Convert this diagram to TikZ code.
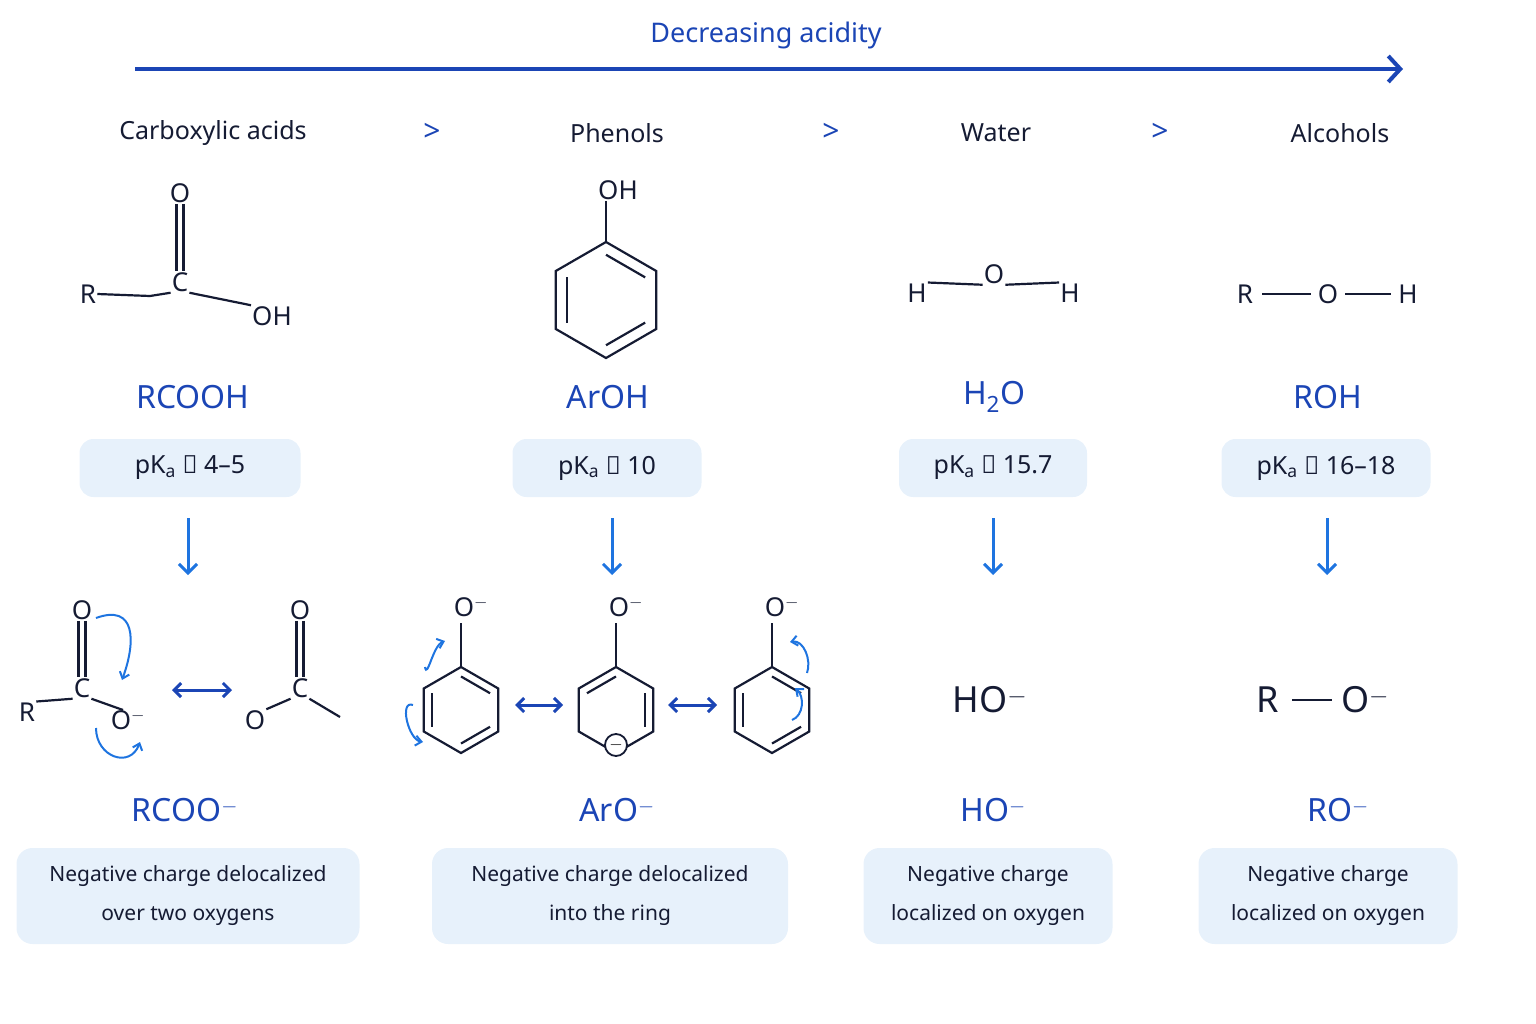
\documentclass[tikz,border=0pt]{standalone}
\usepackage{fontspec}
\setmainfont{Noto Sans}
\usetikzlibrary{calc,arrows.meta}
\definecolor{LabelBlue}{HTML}{1B45B5}
\definecolor{ArrowBlue}{HTML}{1E74E0}
\definecolor{BoxFill}{HTML}{E7F1FB}
\definecolor{TextDark}{HTML}{151B33}

\tikzset{
  heading/.style={text=TextDark, font=\fontsize{25}{30}\selectfont\bfseries},
  atom/.style={text=TextDark, font=\fontsize{26}{30}\selectfont, inner sep=1pt},
  bigatom/.style={text=TextDark, font=\fontsize{36}{40}\selectfont, inner sep=1pt},
  formula/.style={text=LabelBlue, font=\fontsize{32}{36}\selectfont\bfseries},
  pkabox/.style={fill=BoxFill, rounded corners=14pt, minimum height=58pt, text=TextDark, font=\fontsize{25}{30}\selectfont},
  notebox/.style={fill=BoxFill, rounded corners=16pt, minimum height=96pt, text=TextDark, font=\fontsize{21}{39}\selectfont, align=center},
  bond/.style={TextDark, line width=2.2pt},
  down/.style={ArrowBlue, line width=3pt, -{Straight Barb[length=9pt,width=18pt]}},
  reso/.style={LabelBlue, line width=3pt, {Straight Barb[length=7pt,width=14pt]}-{Straight Barb[length=7pt,width=14pt]}},
  push/.style={ArrowBlue, line width=2pt, -{Straight Barb[length=6pt,width=10pt]}}
}

% six ring corners (1 = top, clockwise)
\newcommand{\ringcorners}[3]{%
  \foreach \k/\a in {1/270,2/330,3/30,4/90,5/150,6/210}
    \coordinate (#1-\k) at ($(#2)+(\a:#3)$);
  \coordinate (#1-c) at (#2);
}
\newcommand{\innerbond}[3]{%
  \draw[bond] ($(#1-c)!0.78!(#1-#2)$) -- ($(#1-c)!0.78!(#1-#3)$);
}

\begin{document}
\begin{tikzpicture}[x=1pt,y=-1pt]
  \useasboundingbox (0,0) rectangle (1536,1024);

  % title arrow
  \node[text=LabelBlue, font=\fontsize{27}{32}\selectfont\bfseries] (title) at (766,35) {Decreasing acidity};
  \coordinate (arrL) at (135,69);
  \coordinate (arrR) at (1403,69);
  \draw[LabelBlue, line width=4pt, -{Straight Barb[length=12pt,width=26pt]}] (arrL) -- (arrR);

  % headings
  \node[heading] (hAcid) at (213,133) {Carboxylic acids};
  \node[heading] (hPhen) at (617,133) {Phenols};
  \node[heading] (hWat) at (996,133) {Water};
  \node[heading] (hAlc) at (1340,133) {Alcohols};
  \foreach \x in {432,831,1160}
    \node[text=LabelBlue, font=\fontsize{30}{32}\selectfont] at (\x,132) {>};

  % carboxylic acid
  \node[atom] (caO) at (180,193) {O};
  \node[atom] (caC) at (180,282) {C};
  \node[atom] (caR) at (88,294) {R};
  \node[atom] (caOH) at (272,316) {OH};
  \draw[bond] ([xshift=-3.5pt]caO.south) -- ([xshift=-3.5pt]caC.north);
  \draw[bond] ([xshift=3.5pt]caO.south) -- ([xshift=3.5pt]caC.north);
  \draw[bond] (caR.east) -- (150,296) -- (caC.south west);
  \draw[bond] (caC.south east) -- (caOH.north west);

  % phenol
  \node[atom] (phOH) at (618,190) {OH};
  \ringcorners{ph}{606,300}{58}
  \draw[bond] (phOH.south -| ph-1) -- (ph-1);
  \draw[bond] (ph-1) -- (ph-2) -- (ph-3) -- (ph-4) -- (ph-5) -- (ph-6) -- cycle;
  \innerbond{ph}{1}{2}
  \innerbond{ph}{3}{4}
  \innerbond{ph}{5}{6}

  % water
  \node[atom] (wH1) at (917,293) {H};
  \node[atom] (wO) at (994,274) {O};
  \node[atom] (wH2) at (1070,293) {H};
  \draw[bond] (wH1.north east) -- (wO.south west);
  \draw[bond] (wO.south east) -- (wH2.north west);

  % alcohol
  \node[atom] (alR) at (1245,294) {R};
  \node[atom] (alO) at (1328,294) {O};
  \node[atom] (alH) at (1408,294) {H};
  \draw[bond] ([xshift=8pt]alR.east) -- ([xshift=-6pt]alO.west);
  \draw[bond] ([xshift=6pt]alO.east) -- ([xshift=-6pt]alH.west);

  % formulas and pKa
  \node[formula] (fAcid) at (193,397) {RCOOH};
  \node[formula] (fPhen) at (608,397) {ArOH};
  \node[formula] (fWat) at (994,397) {H$_\mathbf{2}$O};
  \node[formula] (fAlc) at (1328,397) {ROH};
  \node[pkabox, minimum width=221pt] (kAcid) at (190,468) {pK$_\mathrm{a}$ ≈ 4–5};
  \node[pkabox, minimum width=189pt] (kPhen) at (607,468) {pK$_\mathrm{a}$ ≈ 10};
  \node[pkabox, minimum width=188pt] (kWat) at (993,468) {pK$_\mathrm{a}$ ≈ 15.7};
  \node[pkabox, minimum width=209pt] (kAlc) at (1326,468) {pK$_\mathrm{a}$ ≈ 16–18};
  \foreach \x in {188,612,993,1327}
    \draw[down] (\x,518) -- (\x,575);

  % carboxylate resonance
  \node[atom] (c1O) at (82,610) {O};
  \node[atom] (c1C) at (82,688) {C};
  \node[atom] (c1R) at (27,712) {R};
  \node[atom] (c1Om) at (128,720) {O$^{-}$};
  \draw[bond] ([xshift=-3.5pt]c1O.south) -- ([xshift=-3.5pt]c1C.north);
  \draw[bond] ([xshift=3.5pt]c1O.south) -- ([xshift=3.5pt]c1C.north);
  \draw[bond] (c1R.north east) -- (c1C.south west);
  \draw[bond] (c1C.south east) -- (123,710);
  \draw[push] (96,618) to[out=20, in=70, looseness=1.6] (122,680);
  \draw[push] (96,728) to[out=-90, in=-110, looseness=1.6] (140,742);
  \draw[reso] (172,690) -- (232,690);
  \node[atom] (c2O) at (300,610) {O};
  \node[atom] (c2C) at (300,688) {C};
  \node[atom] (c2Om) at (255,720) {O};
  \coordinate (c2Me) at (340,717);
  \draw[bond] ([xshift=-3.5pt]c2O.south) -- ([xshift=-3.5pt]c2C.north);
  \draw[bond] ([xshift=3.5pt]c2O.south) -- ([xshift=3.5pt]c2C.north);
  \draw[bond] (c2Om.north east) -- (c2C.south west);
  \draw[bond] (c2C.south east) -- (c2Me);

  % phenoxide resonance
  \foreach \n/\x in {pA/461,pB/616,pC/772}{
    \node[atom] (\n O) at (\x+10,607) {O$^{-}$};
    \ringcorners{\n}{\x,710}{43}
    \draw[bond] (\x,623) -- (\n-1);
    \draw[bond] (\n-1) -- (\n-2) -- (\n-3) -- (\n-4) -- (\n-5) -- (\n-6) -- cycle;
  }
  \innerbond{pA}{1}{2}
  \innerbond{pA}{3}{4}
  \innerbond{pA}{5}{6}
  \innerbond{pB}{6}{1}
  \innerbond{pB}{2}{3}
  \innerbond{pC}{1}{2}
  \innerbond{pC}{3}{4}
  \innerbond{pC}{5}{6}
  \node[draw=TextDark, line width=1.8pt, circle, fill=white, inner sep=0pt, minimum size=22pt, font=\fontsize{18}{20}\selectfont] (pBm) at (616,745) {$-$};
  \draw[push] (425,667) to[out=-80, in=-160] (445,641);
  \draw[push] (413,705) to[out=160, in=170] (423,742);
  \draw[push] (792,720) to[out=20, in=-40] (795,688);
  \draw[push] (807,673) to[out=70, in=10] (790,642);
  \draw[reso] (515,705) -- (563,705);
  \draw[reso] (668,705) -- (717,705);

  % conjugate bases
  \node[bigatom] (hoB) at (990,700) {HO$^{-}$};
  \node[bigatom] (roR) at (1268,700) {R};
  \node[bigatom] (roO) at (1365,700) {O$^{-}$};
  \draw[bond] (1292,700) -- (1332,700);

  \node[formula] (bAcid) at (185,810) {RCOO$^{-}$};
  \node[formula] (bPhen) at (617,810) {ArO$^{-}$};
  \node[formula] (bWat) at (993,810) {HO$^{-}$};
  \node[formula] (bAlc) at (1338,810) {RO$^{-}$};

  \node[notebox, minimum width=343pt] (nAcid) at (188,896) {Negative charge delocalized\\over two oxygens};
  \node[notebox, minimum width=356pt] (nPhen) at (610,896) {Negative charge delocalized\\into the ring};
  \node[notebox, minimum width=249pt] (nWat) at (988,896) {Negative charge\\localized on oxygen};
  \node[notebox, minimum width=259pt] (nAlc) at (1328,896) {Negative charge\\localized on oxygen};
\end{tikzpicture}
\end{document}
